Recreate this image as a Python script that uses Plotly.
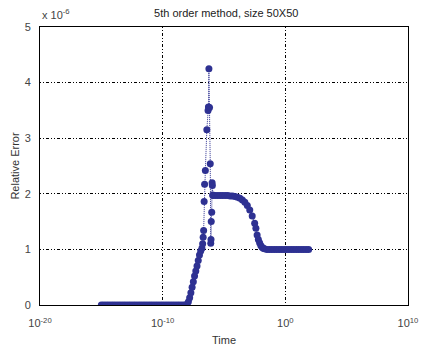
import plotly.graph_objects as go

# Data: exponent of time (log10 seconds) and relative error in units of 1e-6
time_exp = [
    -15.0, -14.8, -14.6, -14.4, -14.2, -14.0, -13.8, -13.6, -13.4, -13.2,
    -13.0, -12.8, -12.6, -12.4, -12.2, -12.0, -11.8, -11.6, -11.4, -11.2,
    -11.0, -10.8, -10.6, -10.4, -10.2, -10.0, -9.8, -9.6, -9.4, -9.2,
    -9.0, -8.8, -8.6, -8.4, -8.2,
    -8.0, -7.9, -7.8, -7.7, -7.6, -7.5, -7.4, -7.3, -7.2, -7.1,
    -7.0, -6.9, -6.8, -6.74, -6.70, -6.66, -6.62, -6.58, -6.52, -6.40,
    -6.30, -6.27, -6.23, -6.18, -6.12, -6.08, -6.06, -6.04, -6.00, -5.97,
    -5.95, -5.92,
    -5.9, -5.7, -5.5, -5.3, -5.1, -4.9, -4.7, -4.5, -4.3, -4.1, -3.9, -3.7,
    -3.5, -3.3, -3.1, -2.9, -2.7, -2.5, -2.4, -2.3, -2.2, -2.1, -2.0, -1.9,
    -1.8, -1.7,
    -1.5, -1.3, -1.1, -0.9, -0.7, -0.5, -0.3, -0.1, 0.1, 0.3,
    0.5, 0.7, 0.9, 1.1, 1.3, 1.5, 1.7, 1.9,
]
rel_error = [
    0.0, 0.0, 0.0, 0.0, 0.0, 0.0, 0.0, 0.0, 0.0, 0.0,
    0.0, 0.0, 0.0, 0.0, 0.0, 0.0, 0.0, 0.0, 0.0, 0.0,
    0.0, 0.0, 0.0, 0.0, 0.0, 0.0, 0.0, 0.0, 0.0, 0.0,
    0.0, 0.0, 0.0, 0.0, 0.0,
    0.02, 0.06, 0.13, 0.22, 0.32, 0.42, 0.52, 0.61, 0.70, 0.80,
    0.90, 0.97, 1.02, 1.10, 1.22, 1.34, 1.86, 2.17, 2.42, 3.15,
    3.50, 3.56, 4.25, 3.55, 2.54, 1.11, 1.18, 1.50, 1.67, 2.20,
    2.15, 1.98,
    1.97, 1.97, 1.97, 1.97, 1.97, 1.97, 1.97, 1.96, 1.96, 1.95, 1.94, 1.92,
    1.89, 1.85, 1.79, 1.71, 1.60, 1.47, 1.38, 1.26, 1.18, 1.12, 1.07, 1.04,
    1.02, 1.01,
    1.0, 1.0, 1.0, 1.0, 1.0, 1.0, 1.0, 1.0, 1.0, 1.0,
    1.0, 1.0, 1.0, 1.0, 1.0, 1.0, 1.0, 1.0,
]
x_tick_vals = [1e-20, 1e-10, 1e0, 1e10]
x_tick_text = ["10<sup>-20</sup>", "10<sup>-10</sup>", "10<sup>0</sup>", "10<sup>10</sup>"]
y_tick_vals = [0, 1, 2, 3, 4, 5]

time_vals = [10 ** e for e in time_exp]

color = "#2E3192"
font = "Liberation Sans"
grid_dash = "1px,2px,1px,2px,3px,2px"

fig = go.Figure()
fig.add_trace(go.Scatter(
    x=time_vals, y=rel_error, mode="lines+markers",
    line=dict(color=color, width=1, dash="1px,1px"),
    marker=dict(color=color, size=7, line=dict(width=0)),
    showlegend=False,
))

fig.update_layout(
    width=431, height=352,
    margin=dict(l=40, r=23, t=27, b=47),
    paper_bgcolor="white", plot_bgcolor="white",
    font=dict(family=font, size=11, color="#444"),
    title=dict(text="5th order method, size 50X50", x=0.525, xanchor="center",
               y=1 - 13 / 352, yanchor="middle",
               font=dict(family=font, size=11, color="#222")),
    annotations=[
        dict(text="x 10<sup>-6</sup>", xref="paper", yref="paper",
             x=0.0, y=1.0, xanchor="left", yanchor="bottom", yshift=4,
             showarrow=False, font=dict(family=font, size=11, color="#444")),
    ],
)
fig.update_xaxes(
    type="log", range=[-20, 10], tickvals=x_tick_vals, ticktext=x_tick_text,
    showgrid=True, gridcolor="black", griddash=grid_dash, gridwidth=1,
    showline=True, linecolor="black", linewidth=1, mirror=True,
    ticks="", zeroline=False, ticklabelstandoff=8, automargin=False,
    title=dict(text="Time", standoff=8, font=dict(family=font, size=11, color="#333")),
)
fig.update_yaxes(
    range=[0, 5], tickvals=y_tick_vals,
    showgrid=True, gridcolor="black", griddash=grid_dash, gridwidth=1,
    showline=True, linecolor="black", linewidth=1, mirror=True,
    ticks="", zeroline=False, ticklabelstandoff=6, automargin=False,
    title=dict(text="Relative Error", standoff=2, font=dict(family=font, size=11, color="#333")),
)

fig.write_html("out.html")
